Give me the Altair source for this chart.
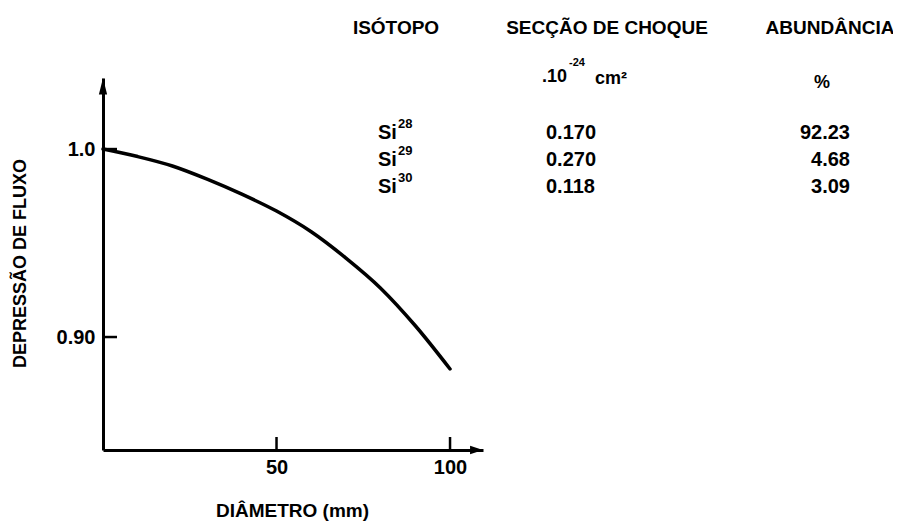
import altair as alt
import pandas as pd

# ---- data ----
diameter_mm = [0, 10, 20, 30, 40, 50, 60, 70, 80, 90, 100]
flux_depression = [1.0, 0.996, 0.991, 0.984, 0.976, 0.967, 0.956, 0.942, 0.926, 0.906, 0.883]
x_tick_values = [50, 100]
y_tick_values = [0.90, 1.0]

headers = ["ISÓTOPO", "SECÇÃO DE CHOQUE", "ABUNDÂNCIA"]
isotopes = ["Si", "Si", "Si"]
mass_numbers = ["28", "29", "30"]
cross_sections = ["0.170", "0.270", "0.118"]
abundances = ["92.23", "4.68", "3.09"]
unit_base = ".10"
unit_exp = "-24"
unit_area = "cm²"
unit_pct = "%"

# ---- layout / style ----
W, H = 380, 372
X_DOMAIN = [0, 109.5]
Y_DOMAIN = [0.8399, 1.0378]
FONT = "Liberation Sans"
INK = "black"

xs = alt.Scale(domain=X_DOMAIN, nice=False, zero=False)
ys = alt.Scale(domain=Y_DOMAIN, nice=False, zero=False)

x_axis = alt.Axis(
    values=x_tick_values, ticks=False, grid=False,
    domainColor=INK, domainWidth=3,
    labelFont=FONT, labelFontSize=20, labelFontWeight="bold", labelColor=INK,
    labelPadding=7,
    title="DIÂMETRO (mm)", titleFont=FONT, titleFontSize=19, titleFontWeight="bold",
    titleColor=INK, titleX=189, titleY=60, titleAlign="center", titleBaseline="middle",
)
y_axis = alt.Axis(
    values=y_tick_values, ticks=False, grid=False,
    labelExpr="datum.value == 1 ? '1.0' : '0.90'",
    domainColor=INK, domainWidth=3,
    labelFont=FONT, labelFontSize=20, labelFontWeight="bold", labelColor=INK,
    labelPadding=8,
    title="DEPRESSÃO DE FLUXO", titleFont=FONT, titleFontSize=18, titleFontWeight="bold",
    titleColor=INK, titleX=-83, titleY=185, titleAngle=270,
    titleAlign="center", titleBaseline="middle",
)

curve_df = pd.DataFrame({"d": diameter_mm, "f": flux_depression})

curve = alt.Chart(curve_df).mark_line(
    color=INK, strokeWidth=3.5, interpolate="monotone", strokeCap="round"
).encode(
    x=alt.X("d:Q", scale=xs, axis=x_axis),
    y=alt.Y("f:Q", scale=ys, axis=y_axis),
)

ytick_df = pd.DataFrame({"v": y_tick_values})
yticks = alt.Chart(ytick_df).mark_rule(color=INK, strokeWidth=2.5).encode(
    y=alt.Y("v:Q", scale=ys, axis=y_axis),
    x=alt.value(0), x2=alt.value(14),
)

xtick_df = pd.DataFrame({"v": x_tick_values})
xticks = alt.Chart(xtick_df).mark_rule(color=INK, strokeWidth=2.5).encode(
    x=alt.X("v:Q", scale=xs, axis=x_axis),
    y=alt.value(H), y2=alt.value(H - 13),
)

one = pd.DataFrame({"k": [0]})
arrow_up = alt.Chart(one).mark_point(
    shape="M0,0L-0.4,1.6L0.4,1.6Z", filled=True, color=INK, opacity=1, size=420
).encode(x=alt.X(datum=X_DOMAIN[0], scale=xs, axis=x_axis),
         y=alt.Y(datum=Y_DOMAIN[1], scale=ys, axis=y_axis))
arrow_right = alt.Chart(one).mark_point(
    shape="M0,0L-1.4,-0.45L-1.4,0.45Z", filled=True, color=INK, opacity=1, size=340
).encode(x=alt.X(datum=X_DOMAIN[1], scale=xs, axis=x_axis),
         y=alt.Y(datum=Y_DOMAIN[0], scale=ys, axis=y_axis))

plot = alt.layer(curve, yticks, xticks, arrow_up, arrow_right)

# ---- table of isotopes ----
table_df = pd.DataFrame({
    "row": [0, 1, 2],
    "iso": isotopes,
    "mass": mass_numbers,
    "sec": cross_sections,
    "ab": abundances,
})
row_y = alt.Y("row:Q", scale=alt.Scale(domain=[0, 2], range=[55, 109]), axis=None)
tbase = alt.Chart(table_df).encode(y=row_y)
txt = dict(font=FONT, fontWeight="bold", color=INK, baseline="middle")

t_iso = tbase.mark_text(fontSize=20, align="left", **txt).encode(x=alt.value(275), text="iso:N")
t_mass = tbase.mark_text(fontSize=13, align="left", dy=-9, **txt).encode(x=alt.value(295), text="mass:N")
t_sec = tbase.mark_text(fontSize=20, align="left", **txt).encode(x=alt.value(443), text="sec:N")
t_ab = tbase.mark_text(fontSize=20, align="right", **txt).encode(x=alt.value(747), text="ab:N")

header_x = [293, 504, 727]
header_layers = []
for h, hx in zip(headers, header_x):
    header_layers.append(
        alt.Chart(pd.DataFrame({"t": [h]})).mark_text(fontSize=19, align="center", **txt)
        .encode(x=alt.value(hx), y=alt.value(-50), text="t:N")
    )

unit_layers = []
for t, ux, uy, fs, al in [
    (unit_base, 439, -1, 18, "left"),
    (unit_exp, 466, -15, 11, "left"),
    (unit_area, 492, 1, 18, "left"),
    (unit_pct, 719, 5, 18, "center"),
]:
    unit_layers.append(
        alt.Chart(pd.DataFrame({"t": [t]})).mark_text(fontSize=fs, align=al, **txt)
        .encode(x=alt.value(ux), y=alt.value(uy), text="t:N")
    )

table = alt.layer(t_iso, t_mass, t_sec, t_ab, *header_layers, *unit_layers)

chart = alt.layer(plot, table).resolve_scale(
    x="independent", y="independent"
).properties(
    width=W, height=H,
    autosize=alt.AutoSizeParams(type="none"),
    padding={"left": 95, "top": 70, "right": 410, "bottom": 74},
    background="white",
).configure_view(stroke=None)

chart.save("out.html", embed_options={"renderer": "svg", "actions": False})
